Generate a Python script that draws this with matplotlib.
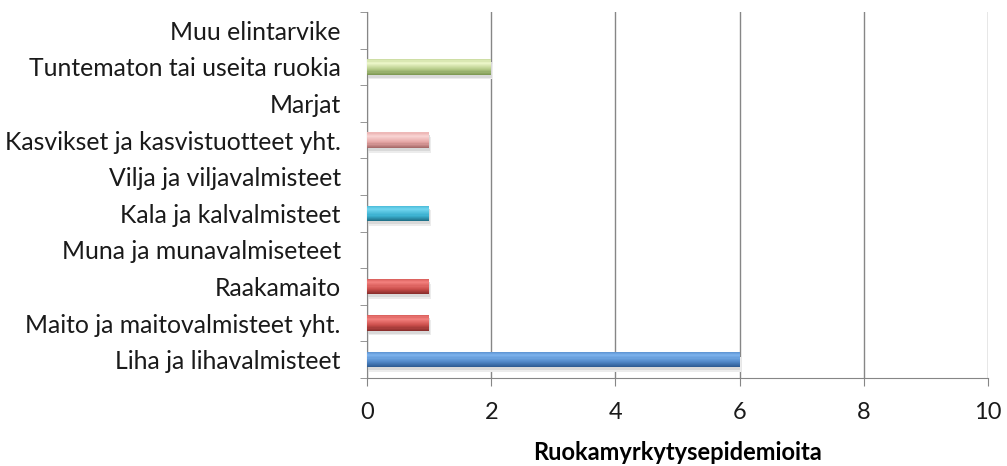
import matplotlib.pyplot as plt
import matplotlib.colors as mcolors
import numpy as np

categories = ["Liha ja lihavalmisteet", "Maito ja maitovalmisteet yht.", "Raakamaito",
              "Muna ja munavalmiseteet", "Kala ja kalvalmisteet", "Vilja ja viljavalmisteet",
              "Kasvikset ja kasvistuotteet yht.", "Marjat", "Tuntematon tai useita ruokia",
              "Muu elintarvike"]
values = [6, 1, 1, 0, 1, 0, 1, 0, 2, 0]
base_colors = ["#4f86c6", "#cc4f4c", "#cc4f4c", "#cc4f4c", "#3bb0cf", "#3bb0cf",
               "#e6a6a5", "#e6a6a5", "#b8cd8b", "#b8cd8b"]
light_colors = ["#7db3ee", "#f4817e", "#f4817e", "#f4817e", "#72d6f0", "#72d6f0",
                "#f9d5d4", "#f9d5d4", "#eef8cb", "#eef8cb"]
dark_colors = ["#2f5d95", "#8c2f2d", "#8c2f2d", "#8c2f2d", "#21738b", "#21738b",
               "#a86b6a", "#a86b6a", "#7f9a55", "#7f9a55"]

plt.rcParams['font.family'] = ['Lato', 'DejaVu Sans']


def mix(c1, c2, t):
    a = np.array(mcolors.to_rgb(c1))
    b = np.array(mcolors.to_rgb(c2))
    return tuple(a + (b - a) * t)


fig = plt.figure(figsize=(10.07, 4.66), dpi=100)
ax = fig.add_axes((0.3645, 0.189, 0.6165, 0.785))

y = np.arange(len(categories))
h = 0.42
# soft shadow
ax.barh(y - 0.13, values, height=h, left=0.03, color="#ececec", zorder=2)
ax.barh(y - 0.08, values, height=h, left=0.01, color="#d9d9d9", zorder=2)

# gradient strips, bottom (dark) to top (light)
n = 14
for k in range(n):
    t = k / (n - 1)
    if t < 0.35:
        cols = [mix(d, b, t / 0.35) for d, b in zip(dark_colors, base_colors)]
    elif t < 0.8:
        cols = [mix(b, l, (t - 0.35) / 0.45) for b, l in zip(base_colors, light_colors)]
    else:
        cols = [mix(l, b, (t - 0.8) / 0.2 * 0.6) for l, b in zip(light_colors, base_colors)]
    yk = y - h / 2 + h * (k + 0.5) / n
    ax.barh(yk, values, height=h / n * 1.05, color=cols, zorder=3)

ax.set_xlim(0, 10)
ax.set_ylim(-0.5, len(categories) - 0.5)
ax.set_xticks(np.arange(0, 11, 2))
ax.set_yticks(y)
ax.set_yticklabels(categories)
ax.set_yticks(np.arange(-0.5, len(categories), 1), minor=True)
ax.tick_params(axis="y", which="major", length=0, pad=19, labelsize=17.8, labelcolor="#1a1a1a")
ax.tick_params(axis="y", which="minor", length=5, color="#868686")
ax.tick_params(axis="x", length=6, color="#868686", labelsize=17, pad=11, labelcolor="#1a1a1a")
ax.grid(axis="x", color="#868686", linewidth=1, zorder=0)
ax.set_axisbelow(True)
for s in ["top", "right"]:
    ax.spines[s].set_visible(False)
ax.spines["left"].set_color("#868686")
ax.spines["bottom"].set_color("#868686")
ax.set_xlabel("Ruokamyrkytysepidemioita", fontsize=17, fontweight="bold", labelpad=13)

plt.savefig("out.png")
